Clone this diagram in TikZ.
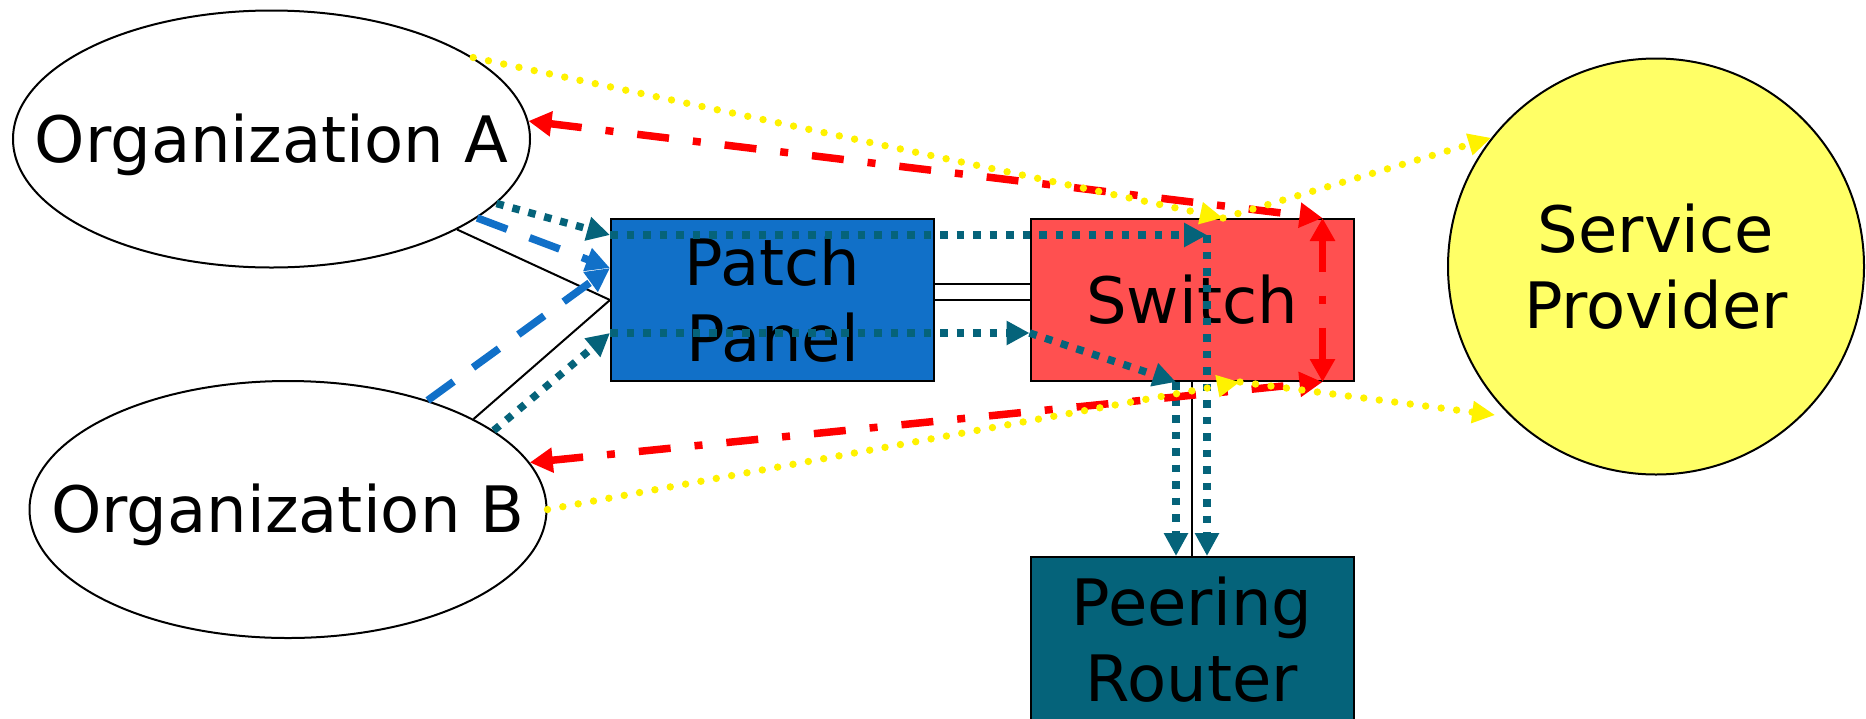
\documentclass[tikz,border=0pt]{standalone}
\usepackage{fontspec}
\setmainfont{DejaVu Sans}
\usetikzlibrary{arrows.meta,shapes.geometric}

\definecolor{panelblue}{RGB}{17,112,200}
\definecolor{switchred}{RGB}{255,80,80}
\definecolor{routerteal}{RGB}{5,99,122}
\definecolor{provideryellow}{RGB}{255,255,102}

\tikzset{
    bigtext/.style={font=\fontsize{32pt}{38pt}\selectfont},
    box/.style={bigtext, draw=black, line width=1pt, rectangle, inner sep=0pt, align=center,
        minimum width=161.5pt, minimum height=81pt},
    org/.style={bigtext, draw=black, line width=1pt, ellipse, inner sep=0pt, fill=white,
        text height=23pt, text depth=0pt, minimum width=258.5pt, minimum height=128.5pt},
    wire/.style={black, line width=1pt},
    tealflow/.style={routerteal, line width=3.75pt, dash pattern=on 3.75pt off 4.5pt,
        -{Triangle[length=11.5pt, width=11.5pt]}},
    blueflow/.style={panelblue, line width=3.75pt, dash pattern=on 16pt off 12pt,
        -{Triangle[length=12pt, width=11.5pt]}},
    redflow/.style={red, line width=3.75pt, dash pattern=on 16pt off 12pt on 4pt off 12pt,
        {Triangle[length=11.5pt, width=12pt]}-{Triangle[length=11.5pt, width=12pt]}},
    yellowflow/.style={yellow, line width=3.7pt, line cap=round, dash pattern=on 0pt off 7.8pt,
        -{Triangle[length=11.5pt, width=10.5pt]}}
}

\begin{document}
\begin{tikzpicture}[x=0.5pt, y=-0.5pt]
    \useasboundingbox (0,0) rectangle (1866,718);
    \clip (0,0) rectangle (1866,718);

    \node[org] (orgA) at (271.5,139) {\makebox[0pt]{Organization A}};
    \node[org] (orgB) at (288,509.5) {\makebox[0pt]{Organization B}};
    \node[box, fill=panelblue] (pp) at (772.5,300) {Patch\\Panel};
    \node[box, fill=switchred] (sw) at (1192,300) {Switch};
    \node[box, fill=routerteal, minimum height=83pt] (rt) at (1192,640) {Peering\\Router};
    \node[bigtext, circle, draw=black, line width=1pt, fill=provideryellow, minimum size=208pt,
        inner sep=0pt, align=center] (sp) at (1656,266.5) {Service\\Provider};

    \coordinate (ppTop) at ([yshift=-8.5pt]pp.north west);
    \coordinate (ppMid) at ([yshift=16pt]pp.west);
    \coordinate (ppLow) at ([yshift=-16.5pt]pp.west);
    \coordinate (swTop) at ([xshift=7.5pt, yshift=-8.5pt]sw.north);
    \coordinate (swLow) at ([yshift=-16.5pt]sw.west);
    \coordinate (swDown) at ([xshift=-8pt]sw.south);
    \coordinate (swNE) at ([xshift=-16pt]sw.north east);
    \coordinate (swSE) at ([xshift=-16pt]sw.south east);
    \coordinate (swYtop) at ([xshift=15.5pt]sw.north);
    \coordinate (swYlow) at ([xshift=24pt]sw.south);
    \coordinate (spLow) at ([shift={(-4pt,-3pt)}]sp.223);

    \draw[wire] (orgA.-26) -- (pp.west);
    \draw[wire] (orgB.26) -- (pp.west);
    \draw[wire] ([yshift=8pt]pp.east) -- ([yshift=8pt]sw.west);
    \draw[wire] (pp.east) -- (sw.west);
    \draw[wire] (sw.south) -- (rt.north);

    \draw[blueflow] (orgA.-21) -- (ppMid);
    \draw[blueflow] (orgB.38) -- (ppMid);

    \draw[tealflow] (orgA.-16) -- (ppTop);
    \draw[tealflow] (ppTop) -- (swTop);
    \draw[tealflow] (swTop) -- ([xshift=7.5pt]rt.north);
    \draw[tealflow] (orgB.21) -- (ppLow);
    \draw[tealflow] (ppLow) -- (swLow);
    \draw[tealflow] (swLow) -- (swDown);
    \draw[tealflow] (swDown) -- ([xshift=-8pt]rt.north);

    \draw[redflow] (orgA.4) -- (swNE);
    \draw[redflow] (orgB.11) -- (swSE);
    \draw[redflow] (swNE) -- (swSE);

    \draw[yellowflow] (orgA.22) -- (swYtop);
    \draw[yellowflow] (swYtop) -- (sp.142);
    \draw[yellowflow] (orgB.east) -- (swYlow);
    \draw[yellowflow] (swYlow) -- (spLow);
\end{tikzpicture}
\end{document}
